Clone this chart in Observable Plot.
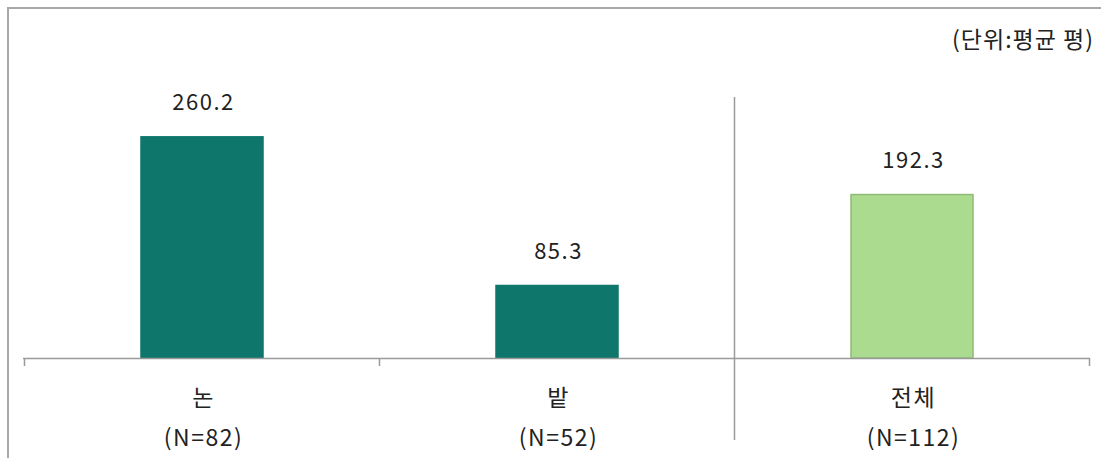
<!DOCTYPE html>
<html><head><meta charset="utf-8">
<script src="https://cdn.jsdelivr.net/npm/d3@7"></script>
<script src="https://cdn.jsdelivr.net/npm/@observablehq/plot@0.6"></script>
<style>
body{margin:0;background:#fff;font-family:"Noto Sans CJK KR","Noto Sans",sans-serif;}
#wrap{position:relative;width:1101px;height:458px;overflow:hidden;background:#fff;}
#frame{position:absolute;left:7px;top:7px;width:1200px;height:600px;border-top:2px solid #a8a8a8;border-left:2px solid #a8a8a8;}
#chart{position:absolute;left:0;top:0;}
#chart text{letter-spacing:1.5px;}
#unit{position:absolute;right:7px;top:22px;font-size:23px;color:#222;line-height:32px;letter-spacing:1px;}
</style></head><body>
<div id="wrap"><div id="frame"></div><div id="chart"></div><div id="unit">(단위:평균 평)</div></div>
<script>
const categories = ["논", "밭", "전체"];
const sampleSizes = ["(N=82)", "(N=52)", "(N=112)"];
const values = [260.2, 85.3, 192.3];
const groups = ["부분", "부분", "전체"];
const valueLabels = ["260.2", "85.3", "192.3"];

const data = categories.map((c, i) => ({
  category: c, n: sampleSizes[i], value: values[i], group: groups[i], label: valueLabels[i]
}));

const TEAL = "#0f766c", LIGHT = "#abdb8e", LIGHT_STROKE = "#8fbb76", AXIS = "#9a9a9a";
const PI = 0.657;

function dividers(index, scales, values, dimensions) {
  const x = scales.x;
  const bw = x.bandwidth ? x.bandwidth() : 122;
  const step = x.step ? x.step() : bw / (1 - PI);
  const y0 = scales.y(0);
  const g = d3.create("svg:g").attr("stroke", AXIS).attr("stroke-width", 1.5).attr("fill", "none");
  const edges = categories.map(c => x(c) - (step - bw) / 2);
  edges.push(x(categories[categories.length - 1]) + bw + (step - bw) / 2);
  edges.forEach((e, i) => {
    const isTotalEdge = i === categories.indexOf("전체");
    g.append("line")
      .attr("x1", e).attr("x2", e)
      .attr("y1", isTotalEdge ? dimensions.marginTop - 6 : y0)
      .attr("y2", isTotalEdge ? y0 + 82 : y0 + 8);
  });
  return g.node();
}

const chart = Plot.plot({
  width: 1101,
  height: 458,
  marginLeft: 23,
  marginRight: 11,
  marginTop: 103,
  marginBottom: 100,
  style: {fontFamily: '"Noto Sans CJK KR", "Noto Sans", sans-serif', background: "transparent", overflow: "visible"},
  x: {domain: categories, paddingInner: PI, paddingOuter: PI / 2, axis: null},
  y: {domain: [0, 300], axis: null},
  marks: [
    Plot.barY(data, {
      x: "category", y: "value",
      fill: d => d.group === "전체" ? LIGHT : TEAL,
      stroke: d => d.group === "전체" ? LIGHT_STROKE : TEAL,
      strokeWidth: 1.5
    }),
    Plot.ruleY([0], {stroke: AXIS, strokeWidth: 1.5}),
    dividers,
    Plot.text(data, {
      x: "category", y: "value", text: "label",
      dy: -34, dx: 1, fontSize: 22, fill: "#222", lineAnchor: "middle"
    }),
    Plot.text(data, {
      x: "category", y: 0, text: d => d.category + "\n" + d.n,
      dy: 19, dx: 1, fontSize: 23, fill: "#222", lineAnchor: "top", lineHeight: 1.74
    })
  ]
});
document.getElementById("chart").appendChild(chart);
</script>
</body></html>
